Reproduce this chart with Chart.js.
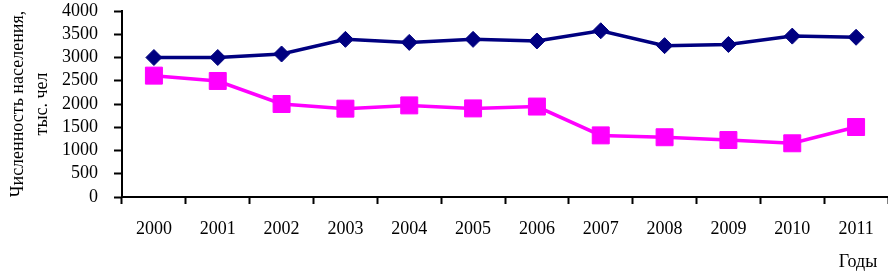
<!DOCTYPE html>
<html lang="ru">
<head>
    <meta charset="UTF-8">
    <title>Численность населения</title>
<style>
    html, body { margin: 0; padding: 0; background: #fff; }
    #chart-box { width: 888px; height: 271px; }
</style>
</head>
<body>
    <div id="chart-box">
        <canvas id="popChart"></canvas>
    </div>

    <script src="https://cdn.jsdelivr.net/npm/chart.js"></script>
    <script>
        // данные
        const years = ['2000', '2001', '2002', '2003', '2004', '2005', '2006', '2007', '2008', '2009', '2010', '2011'];
        const seriesTop = [3000, 3000, 3075, 3390, 3325, 3390, 3355, 3575, 3255, 3280, 3460, 3435];
        const seriesBottom = [2610, 2495, 2000, 1900, 1970, 1905, 1945, 1325, 1285, 1225, 1155, 1505];
        const yTicks = [0, 500, 1000, 1500, 2000, 2500, 3000, 3500, 4000];
        const yTitle = ['Численность населения,', 'тыс. чел'];
        const xTitle = 'Годы';

        const serif = 'Liberation Serif';

        // подпись "Годы" внизу справа
        const xTitlePlugin = {
            id: 'xTitle',
            afterDraw(chart) {
                const c = chart.ctx;
                c.save();
                c.font = '18px "' + serif + '"';
                c.fillStyle = '#000';
                c.textAlign = 'center';
                c.textBaseline = 'middle';
                c.fillText(xTitle, 858, 262);
                c.restore();
            }
        };

        const ctx = document.getElementById('popChart').getContext('2d');
        new Chart(ctx, {
            type: 'line',
            data: {
                labels: years,
                datasets: [{
                    data: seriesTop,
                    borderColor: '#000080',
                    backgroundColor: '#000080',
                    borderWidth: 3.5,
                    pointStyle: 'rectRot',
                    pointRadius: 8,
                    pointBorderWidth: 1,
                    tension: 0
                }, {
                    data: seriesBottom,
                    borderColor: '#FF00FF',
                    backgroundColor: '#FF00FF',
                    borderWidth: 3.5,
                    pointStyle: 'rect',
                    pointRadius: 12,
                    pointBorderWidth: 1,
                    tension: 0
                }]
            },
            options: {
                responsive: true,
                maintainAspectRatio: false,
                animation: false,
                layout: { padding: { top: 11, left: 0, right: 0, bottom: 0 }, autoPadding: false },
                plugins: {
                    legend: { display: false },
                    tooltip: { enabled: false }
                },
                scales: {
                    x: {
                        offset: true,
                        grid: {
                            offset: true,
                            drawOnChartArea: false,
                            drawTicks: true,
                            tickLength: 7,
                            tickWidth: 2,
                            tickColor: '#000'
                        },
                        border: { color: '#000', width: 2 },
                        ticks: {
                            color: '#000',
                            padding: 14,
                            maxRotation: 0,
                            font: { family: serif, size: 18 }
                        },
                        afterFit(scale) { scale.height = 74; }
                    },
                    y: {
                        min: 0,
                        max: 4000,
                        afterBuildTicks(scale) {
                            scale.ticks = yTicks.map(v => ({ value: v }));
                        },
                        grid: {
                            drawOnChartArea: false,
                            drawTicks: true,
                            tickLength: 8,
                            tickWidth: 2,
                            tickColor: '#000'
                        },
                        border: { color: '#000', width: 2 },
                        ticks: {
                            color: '#000',
                            padding: 16,
                            autoSkip: false,
                            callback: v => String(v),
                            font: { family: serif, size: 18 }
                        },
                        title: {
                            display: true,
                            text: yTitle,
                            color: '#000',
                            padding: { top: 7, bottom: 0 },
                            font: { family: serif, size: 18, lineHeight: 1.3 }
                        },
                        afterFit(scale) {
                            scale.width = 122;
                            scale.paddingTop = 0;
                            scale.paddingBottom = 0;
                        }
                    }
                }
            },
            plugins: [xTitlePlugin]
        });
    </script>
</body>
</html>
